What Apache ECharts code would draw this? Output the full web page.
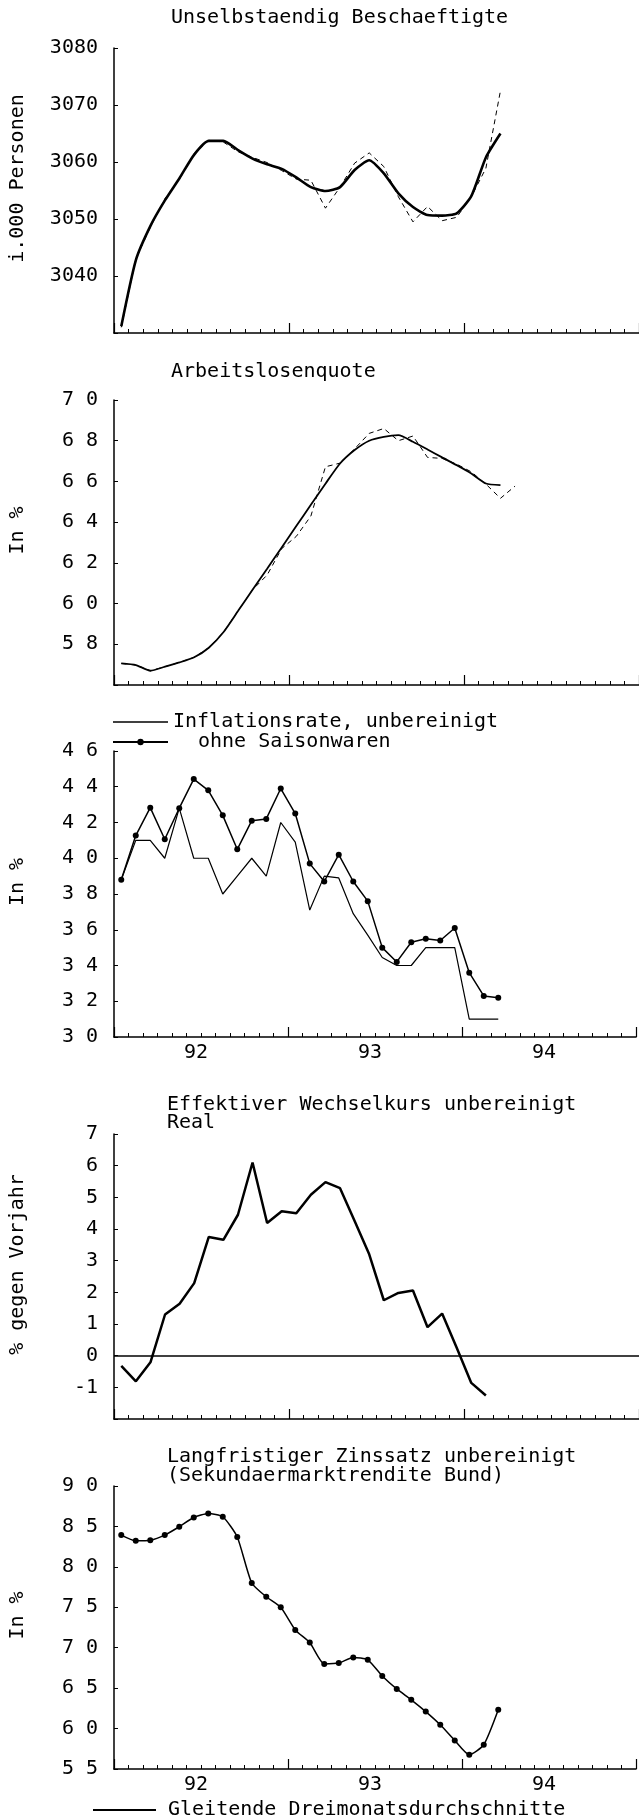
<!DOCTYPE html>
<html><head><meta charset="utf-8">
<script src="https://cdn.jsdelivr.net/npm/echarts@6/dist/echarts.min.js"></script>
<style>html,body{margin:0;padding:0;background:#fff}#c{width:639px;height:1818px}</style>
</head><body><div id="c"></div>
<script>
// ---- data (monthly, Jan 1992 = month 0) ----
const yearLabels = ['92', '93', '94'];

const employmentTrend = [3031.2, 3042.8, 3048.8, 3053.3, 3057.2, 3061.3, 3063.7, 3063.7, 3062.1, 3060.6, 3059.6, 3058.8, 3057.3, 3055.6, 3054.9, 3055.6, 3058.6, 3060.3, 3058.0, 3054.5, 3052.1, 3050.7, 3050.6, 3051.0, 3054.0, 3060.8, 3065.0];
const employmentRaw = [3031.0, 3043.0, 3048.6, 3053.6, 3057.0, 3061.5, 3063.8, 3063.5, 3061.8, 3060.8, 3059.9, 3058.5, 3057.0, 3056.8, 3051.9, 3055.6, 3059.8, 3061.6, 3059.2, 3053.9, 3049.5, 3052.2, 3049.7, 3050.3, 3053.9, 3058.9, 3072.5];

const unemploymentTrend = [5.706, 5.698, 5.67, 5.69, 5.711, 5.736, 5.783, 5.859, 5.963, 6.068, 6.171, 6.276, 6.381, 6.485, 6.589, 6.688, 6.754, 6.80, 6.819, 6.827, 6.795, 6.757, 6.718, 6.68, 6.639, 6.59, 6.582];
const unemploymentRaw = [5.706, 5.698, 5.67, 5.69, 5.711, 5.736, 5.783, 5.859, 5.963, 6.068, 6.14, 6.27, 6.33, 6.43, 6.672, 6.69, 6.76, 6.836, 6.86, 6.80, 6.823, 6.718, 6.713, 6.685, 6.647, 6.587, 6.517, 6.577];

const inflation = [3.88, 4.10, 4.10, 4.00, 4.28, 4.00, 4.00, 3.80, 3.90, 4.00, 3.90, 4.20, 4.09, 3.71, 3.90, 3.89, 3.69, 3.57, 3.445, 3.40, 3.40, 3.50, 3.50, 3.50, 3.10, 3.10, 3.10];
const inflationExSeasonal = [3.88, 4.127, 4.283, 4.106, 4.28, 4.443, 4.38, 4.24, 4.05, 4.21, 4.22, 4.39, 4.25, 3.97, 3.87, 4.02, 3.87, 3.76, 3.50, 3.42, 3.53, 3.55, 3.54, 3.61, 3.36, 3.23, 3.22];

const exchangeRate = [-0.32, -0.81, -0.21, 1.30, 1.64, 2.29, 3.75, 3.66, 4.45, 6.10, 4.19, 4.56, 4.50, 5.08, 5.48, 5.29, 4.25, 3.20, 1.75, 1.98, 2.06, 0.90, 1.33, 0.25, -0.86, -1.26];

const bondYield = [8.393, 8.323, 8.33, 8.393, 8.496, 8.61, 8.66, 8.62, 8.37, 7.80, 7.63, 7.50, 7.22, 7.064, 6.80, 6.81, 6.88, 6.85, 6.65, 6.49, 6.356, 6.21, 6.047, 5.854, 5.677, 5.80, 6.232];

// ---- helpers ----
const FONT = 'DejaVu Sans Mono';
const FS = 20;
const INK = '#000';
const pts = arr => arr.map((v, i) => [i + 0.5, v]);
const commaFmt = v => v.toFixed(1).replace('.', ' ');

const panels = [
  { top: 48, height: 285, min: 3030, max: 3080, interval: 10, name: 'i.000 Personen', fmt: v => v === 3030 ? '' : String(v), xLabels: false },
  { top: 400, height: 285, min: 5.6, max: 7.0, interval: 0.2, name: 'In %', fmt: v => v < 5.65 ? '' : commaFmt(v), xLabels: false },
  { top: 751, height: 286, min: 3.0, max: 4.6, interval: 0.2, name: 'In %', fmt: commaFmt, xLabels: true },
  { top: 1134, height: 285, min: -2, max: 7, interval: 1, name: '% gegen Vorjahr', fmt: v => v === -2 ? '' : String(v), xLabels: false },
  { top: 1486, height: 283, min: 5.5, max: 9.0, interval: 0.5, name: 'In %', fmt: commaFmt, xLabels: true }
];

const grid = [], xAxis = [], yAxis = [];
panels.forEach((p, i) => {
  grid.push({ left: 114, right: 0, top: p.top, height: p.height, containLabel: false });
  xAxis.push({
    type: 'value', gridIndex: i, position: 'bottom', min: 0, max: 36, interval: 12,
    axisLine: { show: true, onZero: false, lineStyle: { color: INK, width: 1.6 } },
    axisTick: { show: true, inside: true, length: 10, lineStyle: { color: INK, width: 1.2 } },
    minorTick: { show: true, splitNumber: 12, length: 4, lineStyle: { color: INK, width: 1 } },
    axisLabel: { show: false }, splitLine: { show: false }, minorSplitLine: { show: false }
  });
  xAxis.push({
    type: 'value', gridIndex: i, position: 'bottom', min: 0, max: 36, interval: 6,
    axisLine: { show: false, onZero: false }, axisTick: { show: false }, splitLine: { show: false },
    axisLabel: {
      show: p.xLabels, margin: 6, color: INK, fontFamily: FONT, fontSize: FS, padding: [0, 10, 0, 0],
      formatter: v => (v % 12 === 6) ? yearLabels[(v - 6) / 12] : ''
    }
  });
  yAxis.push({
    type: 'value', gridIndex: i, min: p.min, max: p.max, interval: p.interval,
    axisLine: { show: true, lineStyle: { color: INK, width: 1.5 } },
    axisTick: { show: true, inside: true, length: 4, lineStyle: { color: INK, width: 1 } },
    splitLine: { show: false },
    axisLabel: { formatter: p.fmt, color: INK, fontFamily: FONT, fontSize: FS, margin: 16, padding: [0, 0, 10, 0] },
    name: p.name, nameLocation: 'middle', nameRotate: 90, nameGap: 86,
    nameTextStyle: { color: INK, fontFamily: FONT, fontSize: FS, padding: [0, 0, 0, 24] }
  });
});

const txt = { fontFamily: FONT, fontSize: FS, fontWeight: 'normal', color: INK };
const noSymbol = { color: 'rgba(0,0,0,0)', borderWidth: 0 };

const option = {
  backgroundColor: '#fff',
  animation: false,
  title: [
    { text: 'Unselbstaendig Beschaeftigte', left: 171, top: 8, padding: 0, textStyle: Object.assign({ lineHeight: 20 }, txt) },
    { text: 'Arbeitslosenquote', left: 171, top: 362, padding: 0, textStyle: Object.assign({ lineHeight: 20 }, txt) },
    { text: 'Effektiver Wechselkurs unbereinigt\nReal', left: 167, top: 1096, padding: 0, textStyle: Object.assign({ lineHeight: 18 }, txt) },
    { text: 'Langfristiger Zinssatz unbereinigt\n(Sekundaermarktrendite Bund)', left: 167, top: 1447, padding: 0, textStyle: Object.assign({ lineHeight: 19 }, txt) }
  ],
  legend: [
    {
      data: [
        { name: 'Inflationsrate, unbereinigt', itemStyle: noSymbol, lineStyle: { color: INK, width: 1.3 } },
        { name: 'ohne Saisonwaren', textStyle: { padding: [0, 0, 0, 25] } }
      ],
      orient: 'vertical', left: 112, top: 712, padding: 0, itemGap: 0, itemWidth: 55, itemHeight: 8,
      textStyle: Object.assign({ lineHeight: 20 }, txt)
    },
    {
      data: [{ name: 'Gleitende Dreimonatsdurchschnitte', itemStyle: noSymbol, lineStyle: { color: INK, width: 2 } }],
      left: 92, top: 1800, padding: 0, itemWidth: 63, itemHeight: 8,
      textStyle: Object.assign({ lineHeight: 20, padding: [0, 0, 0, 7] }, txt)
    }
  ],
  grid, xAxis, yAxis,
  series: [
    { name: 'Beschaeftigte unbereinigt', type: 'line', xAxisIndex: 0, yAxisIndex: 0, data: pts(employmentRaw), symbol: 'none',
      lineStyle: { color: INK, width: 1, type: [5, 4] }, itemStyle: { color: INK }, z: 2 },
    { name: 'Gleitende Dreimonatsdurchschnitte', type: 'line', xAxisIndex: 0, yAxisIndex: 0, data: pts(employmentTrend), symbol: 'none', smooth: 0.2,
      lineStyle: { color: INK, width: 2.6 }, itemStyle: { color: INK }, z: 3 },
    { name: 'Arbeitslosenquote unbereinigt', type: 'line', xAxisIndex: 2, yAxisIndex: 1, data: pts(unemploymentRaw), symbol: 'none',
      lineStyle: { color: INK, width: 1, type: [5, 4] }, itemStyle: { color: INK }, z: 2 },
    { name: 'Gleitende Dreimonatsdurchschnitte', type: 'line', xAxisIndex: 2, yAxisIndex: 1, data: pts(unemploymentTrend), symbol: 'none', smooth: 0.2,
      lineStyle: { color: INK, width: 1.8 }, itemStyle: { color: INK }, z: 3 },
    { name: 'Inflationsrate, unbereinigt', type: 'line', xAxisIndex: 4, yAxisIndex: 2, data: pts(inflation), symbol: 'none',
      lineStyle: { color: INK, width: 1.2 }, itemStyle: { color: INK } },
    { name: 'ohne Saisonwaren', type: 'line', xAxisIndex: 4, yAxisIndex: 2, data: pts(inflationExSeasonal), symbol: 'circle', symbolSize: 6,
      lineStyle: { color: INK, width: 1.5 }, itemStyle: { color: INK } },
    { name: 'Effektiver Wechselkurs real', type: 'line', xAxisIndex: 6, yAxisIndex: 3, data: pts(exchangeRate), symbol: 'none',
      lineStyle: { color: INK, width: 2.5 }, itemStyle: { color: INK },
      markLine: { silent: true, symbol: 'none', label: { show: false }, lineStyle: { color: INK, width: 1.5, type: 'solid' }, data: [{ yAxis: 0 }] } },
    { name: 'Langfristiger Zinssatz', type: 'line', xAxisIndex: 8, yAxisIndex: 4, data: pts(bondYield), symbol: 'circle', symbolSize: 6, smooth: 0.2,
      lineStyle: { color: INK, width: 1.5 }, itemStyle: { color: INK } }
  ]
};

const chart = echarts.init(document.getElementById('c'), null, { renderer: 'canvas' });
chart.setOption(option);
</script>
</body></html>
